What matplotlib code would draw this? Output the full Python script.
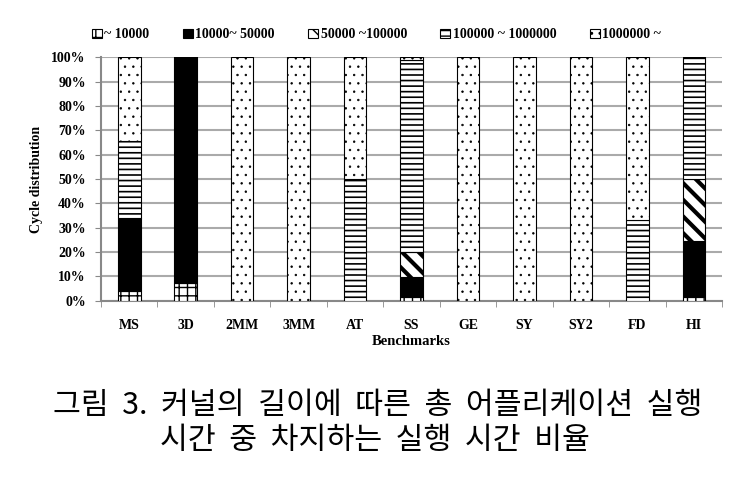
import numpy as np
import matplotlib.pyplot as plt

#%% Data (percent of cycles per benchmark)
benchmarks = ['MS', '3D', '2MM', '3MM', 'AT', 'SS', 'GE', 'SY', 'SY2', 'FD', 'HI']
series_labels = ['~ 10000', '10000~ 50000', '50000 ~100000', '100000 ~ 1000000', '1000000 ~']

lt_10k      = [4.1, 7.4, 0, 0, 0, 1.6, 0, 0, 0, 0, 1.6]
r10k_50k    = [30.0, 92.6, 0, 0, 0, 8.3, 0, 0, 0, 0, 23.1]
r50k_100k   = [0, 0, 0, 0, 0, 10.2, 0, 0, 0, 0, 25.3]
r100k_1m    = [31.6, 0, 0, 0, 50.0, 78.9, 0, 0, 0, 33.2, 50.0]
gt_1m       = [34.3, 0, 100, 100, 50.0, 1.0, 100, 100, 100, 66.8, 0]

series = [lt_10k, r10k_50k, r50k_100k, r100k_1m, gt_1m]
face = ['white', 'black', 'white', 'white', 'white']
hatches = ['++', None, '\\\\', '---', '..']
hatch_lw = [1.0, 1.0, 3.0, 1.2, 0.5]

serif = 'Liberation Serif'
cjk = ['Noto Sans CJK KR', 'DejaVu Sans']

#%% Plot
fig = plt.figure(figsize=(7.5, 4.86), dpi=100)
ax = fig.add_axes([0.1347, 0.381, 0.828, 0.501])

x = np.arange(len(benchmarks))
bottom = np.zeros(len(benchmarks))
handles = []
for vals, fc, h, hl, lab in zip(series, face, hatches, hatch_lw, series_labels):
    with plt.rc_context({'hatch.linewidth': hl}):
        bars = ax.bar(x, vals, width=0.4, bottom=bottom, color=fc, edgecolor='black',
                      hatch=h, linewidth=0.8, label=lab, zorder=3)
    handles.append(bars)
    bottom += np.array(vals)

ax.set_xlim(-0.5, len(benchmarks) - 0.5)
ax.set_ylim(0, 100)
ax.set_yticks(np.arange(0, 101, 10))
ax.set_yticklabels([f'{v}%' for v in range(0, 101, 10)], fontfamily=serif,
                   fontweight='bold', fontsize=10)
ax.set_xticks(x)
ax.set_xticklabels(benchmarks, fontfamily=serif, fontweight='bold', fontsize=10)
ax.set_xticks(np.arange(-0.5, len(benchmarks), 1), minor=True)
ax.tick_params(axis='x', which='major', length=0, pad=13)
ax.tick_params(axis='x', which='minor', length=4, color='#888888')
ax.tick_params(axis='y', length=4, color='#888888', pad=7)

ax.grid(axis='y', color='#aaaaaa', linewidth=1.5, zorder=0)
for s in ['top', 'right']:
    ax.spines[s].set_visible(False)
for s in ['left', 'bottom']:
    ax.spines[s].set_color('#888888')
    ax.spines[s].set_linewidth(1.5)

ax.set_ylabel('Cycle distribution', fontfamily=serif, fontweight='bold', fontsize=10, labelpad=6)
ax.set_xlabel('Benchmarks', fontfamily=serif, fontweight='bold', fontsize=10.5, labelpad=2)

fig.legend(handles=handles, labels=series_labels, loc='center', bbox_to_anchor=(0.502, 0.928),
           ncol=5, frameon=False, handlelength=0.7, handleheight=0.7, handletextpad=0.2,
           columnspacing=2.4, prop={'family': serif, 'weight': 'bold', 'size': 10})

fig.text(0.503, 0.166, '그림  3.  커널의  길이에  따른  총  어플리케이션  실행',
         ha='center', va='center', fontfamily=cjk, fontsize=21.8)
fig.text(0.5, 0.093, '시간  중  차지하는  실행  시간  비율',
         ha='center', va='center', fontfamily=cjk, fontsize=21.8)

fig.savefig('out.png', dpi=100)
